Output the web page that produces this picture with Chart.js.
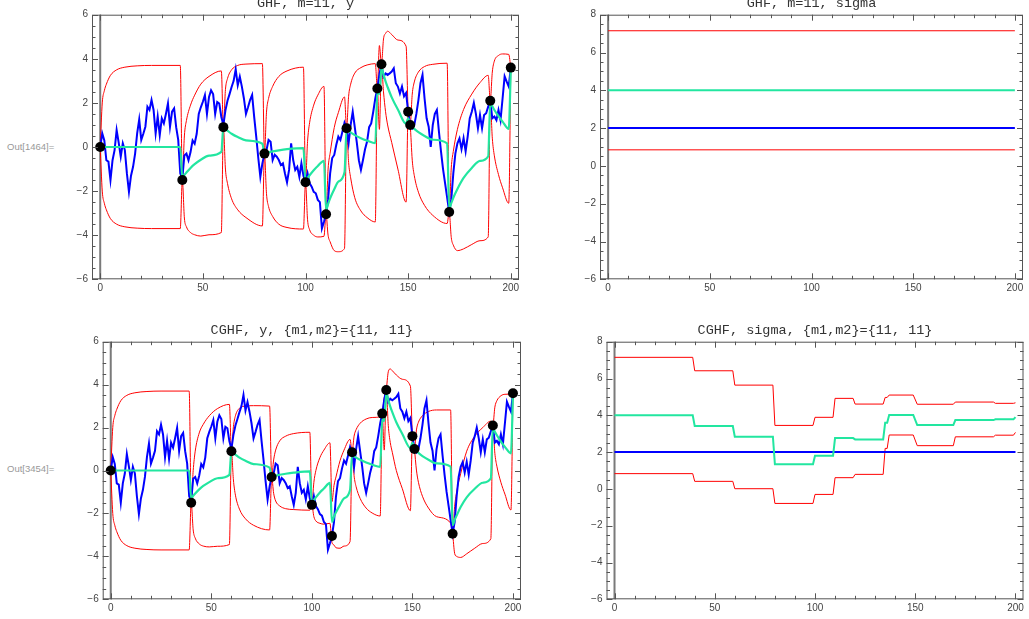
<!DOCTYPE html>
<html>
<head>
<meta charset="utf-8">
<script src="https://cdn.jsdelivr.net/npm/chart.js@4.4.0/dist/chart.umd.min.js"></script>
<style>
html, body { margin: 0; padding: 0; background: #fff; }
body { width: 1029px; height: 619px; position: relative; overflow: hidden; font-family: "Liberation Sans", Arial, sans-serif; }
.panel { position: absolute; }
.out { position: absolute; left: 7px; font-size: 9.5px; color: #999; white-space: nowrap; }
</style>
</head>
<body>
<div class="out" style="top:141px">Out[1464]=</div>
<div class="out" style="top:463px">Out[3454]=</div>
<canvas id="ghfY" class="panel" width="475" height="300" style="left:55px;top:0px"></canvas>
<canvas id="ghfSigma" class="panel" width="469" height="300" style="left:560px;top:0px"></canvas>
<canvas id="cghfY" class="panel" width="475" height="299" style="left:55px;top:320px"></canvas>
<canvas id="cghfSigma" class="panel" width="469" height="299" style="left:560px;top:320px"></canvas>
<script>
// observed path y(t), t = 0..200
var pathY = [
  0, 0.62, 0.3, -0.6, -0.66, -1.5, -0.6, -0.14, 0.77, 0.2,
  -0.44, 0.17, -0.14, -1.2, -2.03, -1.3, -0.9, -0.3, 0.62, 1.25,
  0.32, 0.6, 0.92, 1.83, 1.68, 2.13, 1.68, 0.62, 1.38, 0.54,
  1.3, 1.07, 1.5, 1.98, 0.92, 1.6, 1.75, 0.9, 0.32, -1.2,
  -1.4, -0.38, -0.3, -0.6, -0.23, 0.3, 0.15, 0.6, 1.5, 1.8,
  2.05, 2.35, 1.5, 2.27, 2.57, 2.4, 1.5, 2.04, 1.97, 1.36,
  1.0, 1.66, 2.1, 2.4, 2.72, 3.0, 3.52, 2.8, 3.19, 2.74,
  2.2, 1.5, 1.8, 2.13, 2.36, 1.37, 0.47, -0.5, -1.35, -0.74,
  -0.3, -0.14, 0.32, 0.24, -0.59, -0.35, -0.44, -0.59, -0.82, -0.74,
  -1.2, -1.6, -1.04, 0.17, -0.59, -1.04, -0.9, -1.35, -0.74, -1.3,
  -1.6, -1.19, -1.65, -1.8, -2.03, -2.1, -2.4, -2.5, -3.69, -3.39,
  -3.05, -2.4, -1.2, -0.5, -0.36, 0.1, 0.47, 0.32, 0.7, 1.1,
  0.85, 0.17, 1.0, 1.6, 0.9, 0.2, -0.6, -1.04, -0.59, -0.1,
  0.25, 0.9, 1.07, 1.6, 2.2, 2.65, 3.3, 3.75, 3.19, 3.34,
  3.27, 3.34, 3.42, 3.57, 2.89, 2.74, 2.43, 2.74, 2.3, 2.45,
  1.6, 1.0, 0.85, 1.0, 1.5, 2.13, 2.89, 3.27, 2.2, 1.3,
  0.92, 0.0, 1.0, 1.5, 1.68, 0.7, -0.2, -1.0, -1.65, -2.3,
  -2.95, -2.4, -1.2, -0.3, 0.17, 0.39, -0.1, 0.4, -0.2, 0.47,
  1.3, 1.6, 2.0, 1.5, 0.85, 1.45, 0.85, 1.45, 1.53, 1.83,
  2.1, 1.3, 1.38, 1.22, 1.68, 1.22, 2.2, 3.2, 2.96, 2.74,
  3.6
];

// observation points (black dots)
var obsT = [0, 40, 60, 80, 100, 110, 120, 135, 137, 150, 151, 170, 190, 200];
var obsY = [0, -1.5, 0.9, -0.3, -1.6, -3.05, 0.85, 2.65, 3.75, 1.6, 1.0, -2.95, 2.1, 3.6];

var knotT = [
  0, 1, 2, 3, 5, 8, 12, 18, 25, 39,
  40, 41, 42, 44, 46, 49, 53, 59,
  60, 61, 62, 64, 67, 71, 79,
  80, 81, 82, 84, 87, 91, 99,
  100, 101, 102, 104, 106, 109,
  110, 111, 112, 114, 116, 119,
  120, 121, 122, 124, 127, 130, 134,
  135, 136,
  137, 138, 139, 140, 142, 145, 149,
  150,
  151, 152, 153, 155, 158, 162, 169,
  170, 171, 172, 174, 177, 181, 185, 189,
  190, 191, 192, 194, 196, 199,
  200
];

// GHF, m=11: mean and band
var ghfMean = [
  0, 0, 0, 0, 0, 0, 0, 0, 0, 0,
  -1.4, -1.27, -1.16, -0.95, -0.78, -0.58, -0.39, -0.22,
  0.9, 0.81, 0.74, 0.6, 0.45, 0.3, 0.15,
  -0.28, -0.26, -0.24, -0.2, -0.15, -0.1, -0.05,
  -1.55, -1.41, -1.28, -1.05, -0.86, -0.63,
  -2.85, -2.58, -2.33, -1.92, -1.57, -1.15,
  0.8, 0.72, 0.66, 0.54, 0.4, 0.29, 0.17,
  2.5, 2.4,
  3.6, 3.28, 2.98, 2.72, 2.25, 1.7, 1.05,
  1.3,
  1.0, 0.9, 0.82, 0.67, 0.5, 0.33, 0.16,
  -2.8, -2.55, -2.3, -1.9, -1.4, -0.95, -0.63, -0.42,
  2.05, 1.85, 1.68, 1.4, 1.15, 0.82,
  3.5
];
var ghfUpper = [
  0, 2.0, 2.55, 2.85, 3.25, 3.5, 3.62, 3.68, 3.7, 3.7,
  -1.5, 0.5, 1.2, 1.9, 2.35, 2.85, 3.2, 3.45,
  0.9, 2.6, 3.1, 3.5, 3.7, 3.76, 3.78,
  -0.3, 1.58, 2.2, 2.75, 3.2, 3.45, 3.62,
  -1.6, 0.25, 1.1, 1.9, 2.35, 2.75,
  -3.05, -1.0, -0.28, 0.88, 1.56, 2.27,
  0.85, 2.3, 2.85, 3.35, 3.6, 3.72, 3.78,
  2.65, 4.6,
  3.75, 4.9, 5.15, 5.25, 5.1, 4.85, 4.57,
  1.6,
  1.0, 2.4, 2.95, 3.4, 3.65, 3.75, 3.8,
  -2.95, -0.95, -0.2, 0.8, 1.7, 2.4, 2.92, 3.25,
  2.1, 3.4, 3.9, 4.15, 4.22, 4.2,
  3.6
];
var ghfLower = [
  0, -2.0, -2.55, -2.85, -3.25, -3.5, -3.62, -3.68, -3.7, -3.7,
  -1.5, -3.22, -3.62, -3.88, -3.98, -4.04, -3.98, -3.88,
  0.9, -1.0, -1.65, -2.35, -2.85, -3.2, -3.58,
  -0.3, -2.12, -2.7, -3.15, -3.5, -3.65, -3.72,
  -1.6, -3.3, -3.75, -4.0, -4.08, -4.05,
  -3.05, -4.0, -4.3, -4.7, -4.75, -4.6,
  0.85, -0.7, -1.4, -2.3, -2.9, -3.2, -3.4,
  2.65, 0.8,
  3.75, 2.5, 1.6, 1.0, 0.2, -1.0, -2.5,
  1.6,
  1.0, -0.6, -1.3, -2.05, -2.65, -3.1, -3.47,
  -2.95, -4.1, -4.45, -4.7, -4.62, -4.42, -4.25, -4.08,
  2.1, 0.4, -0.4, -1.25, -1.85, -2.55,
  3.6
];

// CGHF, {m1,m2}={11,11}: mean and band
var cghfMean = [
  0, 0, 0, 0, 0, 0, 0, 0, 0, 0,
  -1.3, -1.18, -1.07, -0.88, -0.72, -0.54, -0.36, -0.2,
  0.9, 0.81, 0.74, 0.6, 0.45, 0.3, 0.13,
  -0.28, -0.26, -0.24, -0.2, -0.15, -0.1, -0.04,
  -1.5, -1.38, -1.25, -1.02, -0.84, -0.58,
  -2.4, -2.15, -1.95, -1.6, -1.3, -0.91,
  0.75, 0.67, 0.6, 0.5, 0.37, 0.27, 0.17,
  2.4, 2.3,
  3.6, 3.28, 2.98, 2.72, 2.25, 1.7, 1.05,
  1.3,
  1.0, 0.9, 0.82, 0.67, 0.5, 0.33, 0.18,
  -2.55, -2.3, -2.1, -1.7, -1.25, -0.85, -0.57, -0.36,
  2.0, 1.8, 1.64, 1.35, 1.1, 0.8,
  3.5
];
var cghfUpper = [
  0, 2.0, 2.55, 2.85, 3.25, 3.5, 3.62, 3.68, 3.7, 3.7,
  -1.5, 0.0, 0.9, 1.75, 2.15, 2.55, 2.88, 3.08,
  0.9, 2.04, 2.55, 2.9, 3.0, 3.02, 3.0,
  -0.3, 0.49, 0.95, 1.38, 1.6, 1.72, 1.78,
  -1.6, -0.55, 0.0, 0.6, 0.95, 1.29,
  -1.45, -0.7, -0.3, 0.45, 0.95, 1.45,
  0.85, 1.6, 1.9, 2.2, 2.4, 2.47, 2.5,
  2.65, 3.4,
  3.75, 4.6, 4.73, 4.65, 4.45, 4.25, 3.93,
  1.6,
  1.0, 1.89, 2.25, 2.55, 2.75, 2.82, 2.82,
  -2.95, -1.68, -1.0, -0.15, 0.9, 1.6, 2.0, 2.3,
  2.1, 2.95, 3.25, 3.48, 3.55, 3.56,
  3.6
];
var cghfLower = [
  0, -2.0, -2.55, -2.85, -3.25, -3.5, -3.62, -3.68, -3.7, -3.7,
  -1.5, -2.77, -3.15, -3.42, -3.52, -3.56, -3.53, -3.45,
  0.9, -0.44, -1.15, -1.8, -2.25, -2.55, -2.77,
  -0.3, -1.06, -1.42, -1.65, -1.78, -1.82, -1.85,
  -1.6, -2.15, -2.35, -2.46, -2.5, -2.46,
  -3.35, -3.47, -3.6, -3.62, -3.52, -3.31,
  0.85, -0.25, -0.75, -1.3, -1.75, -1.98, -2.12,
  2.65, 0.95,
  3.75, 2.1, 1.3, 0.85, 0.0, -0.85, -1.87,
  1.6,
  1.0, 0.02, -0.55, -1.2, -1.75, -2.15, -2.45,
  -2.95, -3.86, -4.0, -4.05, -3.88, -3.62, -3.4, -3.18,
  2.1, 0.8, 0.2, -0.55, -1.1, -1.84,
  3.6
];

// sigma estimates, GHF (constant), and the true sigma
var sigT = [0, 200];
var ghfSigUpper = [7.15, 7.15];
var ghfSigMean = [4.0, 4.0];
var ghfSigLower = [0.85, 0.85];
var sigTrue = [2.0, 2.0];

// sigma estimates, CGHF (piecewise)
var cghfSigT = [0, 39, 40, 59, 60, 79, 80, 99, 100, 109, 110, 119, 120, 134, 135, 136, 137, 149, 151, 169, 170, 189, 190, 199, 200];
var cghfSigUpper = [7.15, 7.15, 6.42, 6.42, 5.64, 5.64, 3.45, 3.45, 3.89, 3.89, 4.92, 4.92, 4.61, 4.61, 4.97, 4.97, 5.1, 5.1, 4.6, 4.6, 4.72, 4.72, 4.65, 4.65, 4.68];
var cghfSigMean = [4.0, 4.0, 3.42, 3.42, 2.84, 2.84, 1.34, 1.34, 1.8, 1.8, 2.76, 2.76, 2.69, 2.69, 3.6, 3.6, 4.02, 4.02, 3.47, 3.47, 3.74, 3.74, 3.78, 3.78, 3.9];
var cghfSigLower = [0.83, 0.83, 0.41, 0.41, 0.01, 0.01, -0.79, -0.79, -0.3, -0.3, 0.61, 0.61, 0.79, 0.79, 2.2, 2.2, 2.93, 2.93, 2.35, 2.35, 2.83, 2.83, 2.92, 2.92, 3.07];

var RED = '#ff0000', GREEN = '#22e6a0', BLUE = '#0000ff';
var TICK_FONT = { family: '"Liberation Sans", Arial, sans-serif', size: 10 };

function pts(xs, ys) {
  return xs.map(function(x, i) { return { x: x, y: ys[i] }; });
}
function pathPts() {
  return pathY.map(function(y, t) { return { x: t, y: y }; });
}
function line(data, color, width, smooth) {
  return {
    data: data, borderColor: color, borderWidth: width, pointRadius: 0,
    fill: false, cubicInterpolationMode: smooth ? 'monotone' : 'default'
  };
}
function dots() {
  return {
    data: pts(obsT, obsY), showLine: false, pointRadius: 5,
    pointBackgroundColor: '#000', pointBorderColor: '#000', pointBorderWidth: 0
  };
}

// frame with inward ticks, vertical axis at t=0 and the title
var framePlugin = {
  id: 'frame',
  beforeDatasetsDraw: function(chart) {
    var a = chart.chartArea, ctx = chart.ctx;
    var x0 = chart.scales.x.getPixelForValue(0);
    ctx.save();
    ctx.strokeStyle = '#7a7a7a';
    ctx.lineWidth = 2;
    ctx.beginPath();
    ctx.moveTo(x0, a.top);
    ctx.lineTo(x0, a.bottom);
    ctx.stroke();
    ctx.restore();
  },
  afterDraw: function(chart, args, opts) {
    var a = chart.chartArea, ctx = chart.ctx;
    var xs = chart.scales.x, ys = chart.scales.y;
    ctx.save();
    ctx.strokeStyle = '#555';
    ctx.lineWidth = 1;
    ctx.strokeRect(a.left + 0.5, a.top + 0.5, a.right - a.left - 1, a.bottom - a.top - 1);
    ctx.beginPath();
    for (var t = 0; t <= 200; t += 10) {
      var px = Math.round(xs.getPixelForValue(t)) + 0.5;
      var len = t % 50 === 0 ? 6 : 3.5;
      ctx.moveTo(px, a.bottom); ctx.lineTo(px, a.bottom - len);
      ctx.moveTo(px, a.top); ctx.lineTo(px, a.top + len);
    }
    for (var v = ys.min; v <= ys.max + 0.001; v += 0.5) {
      var py = Math.round(ys.getPixelForValue(v)) + 0.5;
      var len2 = Math.abs(v % 2) < 0.01 ? 6 : 3.5;
      ctx.moveTo(a.left, py); ctx.lineTo(a.left + len2, py);
      ctx.moveTo(a.right, py); ctx.lineTo(a.right - len2, py);
    }
    ctx.stroke();
    ctx.fillStyle = '#333';
    ctx.font = '13.5px "Liberation Mono", "Courier New", monospace';
    ctx.textAlign = 'center';
    ctx.textBaseline = 'alphabetic';
    ctx.fillText(opts.title, (a.left + a.right) / 2, a.top - 8);
    ctx.restore();
  }
};

function fmt(v) {
  return v < 0 ? '\u2212' + (-v) : '' + v;
}

function makeChart(id, title, yMin, yMax, pad, datasets) {
  return new Chart(document.getElementById(id), {
    type: 'line',
    data: { datasets: datasets },
    options: {
      responsive: false,
      animation: false,
      devicePixelRatio: 1,
      layout: { padding: { left: pad.left, right: pad.right, top: pad.top, bottom: 0 } },
      plugins: { legend: { display: false }, tooltip: { enabled: false }, frame: { title: title } },
      elements: { line: { tension: 0 } },
      scales: {
        x: {
          type: 'linear', min: -4, max: 204,
          grid: { display: false, drawTicks: false }, border: { display: false },
          afterBuildTicks: function(s) { s.ticks = [0, 50, 100, 150, 200].map(function(v) { return { value: v }; }); },
          afterFit: function(s) { s.height = pad.xh; },
          ticks: { padding: 3, color: '#444', font: TICK_FONT, maxRotation: 0, autoSkip: false }
        },
        y: {
          type: 'linear', min: yMin, max: yMax,
          grid: { display: false, drawTicks: false }, border: { display: false },
          afterBuildTicks: function(s) {
            var list = [];
            for (var v = yMin; v <= yMax; v += 2) list.push({ value: v });
            s.ticks = list;
          },
          afterFit: function(s) { s.width = 32; },
          ticks: { padding: 4, color: '#444', font: TICK_FONT, autoSkip: false, callback: fmt }
        }
      }
    },
    plugins: [framePlugin]
  });
}

makeChart('ghfY', 'GHF, m=11, y', -6, 6, { left: 5, right: 11, top: 14.7, xh: 20.7 }, [
  dots(),
  line(pts(knotT, ghfMean), GREEN, 2.2, true),
  line(pathPts(), BLUE, 2, false),
  line(pts(knotT, ghfUpper), RED, 1, true),
  line(pts(knotT, ghfLower), RED, 1, true)
]);

makeChart('ghfSigma', 'GHF, m=11, sigma', -6, 8, { left: 8, right: 6, top: 14.7, xh: 20.7 }, [
  line(pts(sigT, ghfSigMean), GREEN, 2, false),
  line(pts(sigT, sigTrue), BLUE, 2, false),
  line(pts(sigT, ghfSigUpper), RED, 1, false),
  line(pts(sigT, ghfSigLower), RED, 1, false)
]);

makeChart('cghfY', 'CGHF, y, {m1,m2}={11, 11}', -6, 6, { left: 15.7, right: 9, top: 21.7, xh: 19.7 }, [
  dots(),
  line(pts(knotT, cghfMean), GREEN, 2.2, true),
  line(pathPts(), BLUE, 2, false),
  line(pts(knotT, cghfUpper), RED, 1, true),
  line(pts(knotT, cghfLower), RED, 1, true)
]);

makeChart('cghfSigma', 'CGHF, sigma, {m1,m2}={11, 11}', -6, 8, { left: 14.5, right: 5.5, top: 21.7, xh: 19.7 }, [
  line(pts(cghfSigT, cghfSigMean), GREEN, 2, false),
  line(pts(sigT, sigTrue), BLUE, 2, false),
  line(pts(cghfSigT, cghfSigUpper), RED, 1, false),
  line(pts(cghfSigT, cghfSigLower), RED, 1, false)
]);
</script>
</body>
</html>
